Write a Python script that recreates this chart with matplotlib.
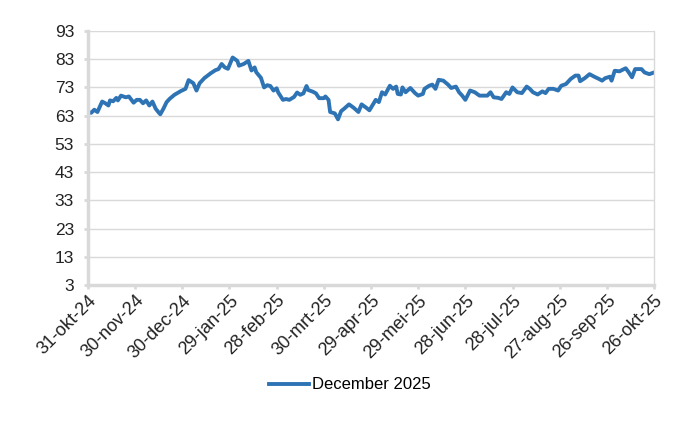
import datetime as dt
import matplotlib
matplotlib.use("Agg")
import matplotlib.pyplot as plt

# data: day offset from 31-okt-24 and price
start = dt.date(2024, 10, 31)
days = [0, 2, 4, 6, 9, 11, 13, 14, 16, 18, 19, 21, 24, 26, 29, 31, 33, 35, 37, 39,
        41, 43, 45, 46, 48, 50, 52, 55, 59, 62, 64, 67, 69, 71, 74, 78, 81, 83, 85, 87,
        89, 92, 95, 96, 99, 102, 104, 106, 107, 110, 112, 114, 116, 118, 120, 121, 124, 126, 128, 131,
        133, 135, 137, 139, 140, 143, 145, 147, 150, 151, 153, 154, 157, 159, 161, 163, 166, 169, 172, 174,
        177, 179, 183, 185, 187, 189, 192, 194, 196, 197, 199, 200, 202, 205, 208, 210, 213, 214, 217, 219,
        221, 223, 226, 229, 231, 234, 236, 238, 240, 243, 246, 249, 251, 254, 256, 258, 261, 263, 266, 268,
        270, 273, 276, 279, 281, 283, 286, 289, 291, 293, 296, 299, 301, 304, 307, 310, 312, 313, 316, 319,
        322, 325, 327, 329, 332, 333, 335, 338, 342, 344, 346, 348, 352, 354, 357, 360]
values = [64.3, 64.0, 65.1, 64.3, 68.0, 67.4, 66.6, 68.4, 68.1, 69.3, 68.4, 70.1, 69.5, 69.8, 67.6, 68.6, 68.6, 67.4, 68.4, 66.6,
          68.0, 65.5, 64.1, 63.5, 65.5, 67.8, 69.0, 70.4, 71.7, 72.5, 75.6, 74.5, 71.9, 74.5, 76.3, 78.0, 79.1, 79.5, 81.3, 80.1,
          79.6, 83.6, 82.4, 80.7, 81.3, 82.4, 79.0, 80.1, 78.4, 76.4, 73.0, 73.8, 73.5, 71.9, 72.7, 71.2, 68.6, 68.9, 68.6, 69.6,
          71.2, 70.4, 70.9, 73.5, 72.1, 71.5, 70.9, 69.2, 69.2, 69.8, 68.6, 64.3, 63.8, 61.7, 64.6, 65.5, 67.0, 65.8, 64.3, 67.0,
          65.8, 64.9, 68.6, 67.8, 71.3, 70.5, 73.6, 72.5, 73.3, 70.7, 70.5, 73.0, 71.3, 72.8, 71.0, 70.1, 70.7, 72.5, 73.6, 74.0,
          72.5, 75.7, 75.4, 74.0, 72.8, 73.3, 71.3, 70.1, 68.6, 71.9, 71.3, 70.1, 70.1, 70.1, 71.3, 69.5, 69.3, 68.9, 71.3, 70.7,
          73.0, 71.3, 71.0, 73.3, 72.5, 71.3, 70.5, 71.6, 71.0, 72.5, 72.5, 71.9, 73.6, 74.2, 76.0, 77.2, 77.2, 75.2, 76.3, 77.7,
          76.8, 76.0, 75.4, 76.3, 76.8, 75.4, 78.9, 78.7, 79.8, 78.3, 76.6, 79.5, 79.5, 78.3, 77.7, 78.3]
series_name = "December 2025"
tick_labels = ["31-okt-24", "30-nov-24", "30-dec-24", "29-jan-25", "28-feb-25", "30-mrt-25",
               "29-apr-25", "29-mei-25", "28-jun-25", "28-jul-25", "27-aug-25", "26-sep-25", "26-okt-25"]
y_ticks = [3, 13, 23, 33, 43, 53, 63, 73, 83, 93]

plt.rcParams['font.family'] = ['Liberation Sans', 'DejaVu Sans']

dates = [start + dt.timedelta(days=d) for d in days]
tick_dates = [start + dt.timedelta(days=30 * i) for i in range(len(tick_labels))]

fig = plt.figure(figsize=(7, 4.3), dpi=100)
ax = fig.add_axes([0.1257, 0.337, 0.8086, 0.591])

ax.plot(dates, values, color='#2E74B5', lw=2.8, label=series_name, solid_joinstyle='round')

ax.set_ylim(3, 93)
ax.set_yticks(y_ticks)
ax.set_xlim(tick_dates[0], tick_dates[-1])
ax.set_xticks(tick_dates)
ax.set_xticklabels(tick_labels, rotation=45, ha='right', rotation_mode='anchor', fontsize=13)

# grid en assen in lichtgrijs
ax.grid(axis='y', color='#d9d9d9', lw=1)
ax.set_axisbelow(True)
for side in ['left', 'bottom']:
    ax.spines[side].set_color('#d9d9d9')
    ax.spines[side].set_linewidth(2.5)
ax.spines['right'].set_color('#d9d9d9')
ax.spines['right'].set_linewidth(1)
ax.spines['top'].set_visible(False)
ax.tick_params(axis='both', colors='#d9d9d9', width=2, length=3, labelcolor='#222222')
ax.tick_params(axis='y', pad=7, labelsize=12.5)
ax.tick_params(axis='x', pad=2)

fig.legend(loc='center', bbox_to_anchor=(0.5, 0.105), frameon=False, fontsize=12,
           handlelength=2.4, handletextpad=0.15)

fig.savefig('out.png', dpi=100)
